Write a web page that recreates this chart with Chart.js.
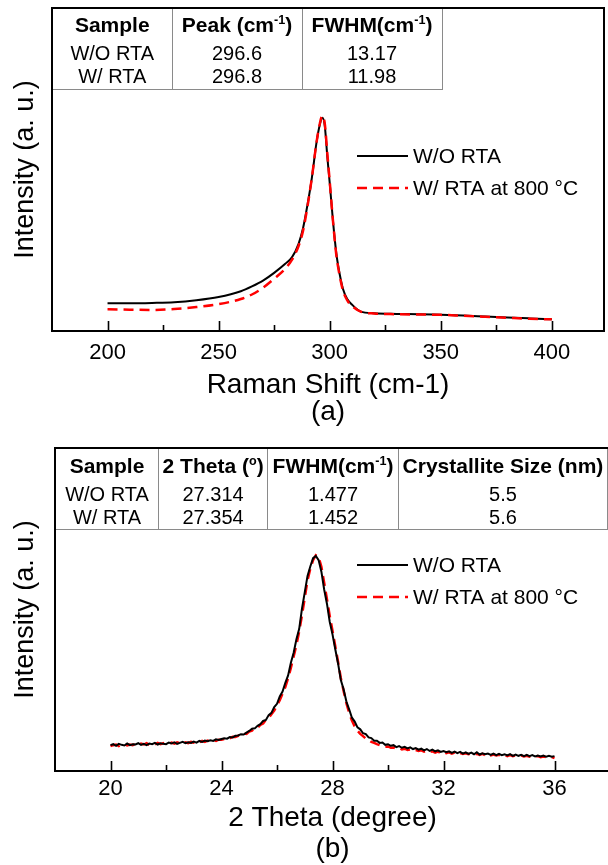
<!DOCTYPE html>
<html>
<head>
<meta charset="utf-8">
<script src="https://cdn.jsdelivr.net/npm/chart.js@4.4.1/dist/chart.umd.min.js"></script>
<style>
  body { margin: 0; width: 608px; height: 865px; overflow: hidden; position: relative; background: #fff; }
  .wrap { position: absolute; left: 0; }
  table.info { position: absolute; border-collapse: collapse; font-family: "Liberation Sans", Arial, sans-serif; color: #000; table-layout: fixed; }
  table.info td { padding: 0; text-align: center; white-space: nowrap; border-right: 1px solid #8a8a8a; font-size: 20px; }
  table.info tr.head td { font-weight: bold; font-size: 21px; }
  table.info tr:last-child td { border-bottom: 1px solid #8a8a8a; }
  table.info sup { font-size: 60%; vertical-align: top; line-height: 1; position: relative; top: 1px; }
</style>
</head>
<body>
<div class="wrap" style="top:0"><canvas id="ramanChart" width="608" height="432"></canvas></div>
<div class="wrap" style="top:435px"><canvas id="xrdChart" width="610" height="430"></canvas></div>
<table class="info" id="ramanTable" style="left:53px; top:9px"></table>
<table class="info" id="xrdTable" style="left:56px; top:449px"></table>
<script>
// ---- panel (a): Raman ----
const ramanShift = [200, 210, 220, 230, 240, 250, 260, 265, 270, 275, 280, 283, 286, 288, 290, 292, 294, 295.5, 296.7, 297.8, 299, 300, 301.5, 303, 304, 306, 308, 310, 314, 320, 330, 340, 350, 360, 370, 380, 390, 400];
const ramanWoRta = [8.6, 8.6, 8.7, 8.9, 9.5, 10.5, 12.3, 13.8, 15.6, 18.0, 20.8, 22.8, 27.0, 31.8, 39.0, 47.5, 58.0, 63.7, 66.0, 63.5, 53.5, 46.0, 34.0, 24.0, 19.5, 13.0, 9.8, 8.2, 6.0, 5.5, 5.3, 5.2, 5.0, 4.8, 4.5, 4.2, 3.9, 3.6];
const ramanWRta = [6.7, 6.6, 6.5, 6.8, 7.4, 8.3, 9.9, 11.3, 13.4, 16.2, 19.3, 22.0, 26.3, 31.0, 38.5, 47.5, 58.0, 64.0, 66.6, 64.2, 54.5, 46.5, 34.0, 23.5, 19.0, 12.5, 9.4, 7.8, 6.0, 5.4, 5.2, 5.1, 5.0, 4.7, 4.4, 4.1, 3.8, 3.6];
const ramanMajorTicks = [200, 250, 300, 350, 400];
const ramanMinorTicks = [225, 275, 325, 375];

// ---- panel (b): XRD ----
const twoTheta = [
  20.0, 20.1, 20.2, 20.3, 20.4, 20.5, 20.6, 20.7, 20.8, 20.9,
  21.0, 21.1, 21.2, 21.3, 21.4, 21.5, 21.6, 21.7, 21.8, 21.9,
  22.0, 22.1, 22.2, 22.3, 22.4, 22.5, 22.6, 22.7, 22.8, 22.9,
  23.0, 23.1, 23.2, 23.3, 23.4, 23.5, 23.6, 23.7, 23.8, 23.9,
  24.0, 24.1, 24.2, 24.3, 24.4, 24.5, 24.6, 24.7, 24.8, 24.9,
  25.0, 25.1, 25.2, 25.3, 25.4, 25.5, 25.6, 25.7, 25.8, 25.9,
  26.0, 26.1, 26.2, 26.3, 26.4, 26.5, 26.6, 26.7, 26.8, 26.9,
  27.0, 27.1, 27.2, 27.3, 27.4, 27.5, 27.6, 27.7, 27.8, 27.9,
  28.0, 28.1, 28.2, 28.3, 28.4, 28.5, 28.6, 28.7, 28.8, 28.9,
  29.0, 29.1, 29.2, 29.3, 29.4, 29.5, 29.6, 29.7, 29.8, 29.9,
  30.0, 30.1, 30.2, 30.3, 30.4, 30.5, 30.6, 30.7, 30.8, 30.9,
  31.0, 31.1, 31.2, 31.3, 31.4, 31.5, 31.6, 31.7, 31.8, 31.9,
  32.0, 32.1, 32.2, 32.3, 32.4, 32.5, 32.6, 32.7, 32.8, 32.9,
  33.0, 33.1, 33.2, 33.3, 33.4, 33.5, 33.6, 33.7, 33.8, 33.9,
  34.0, 34.1, 34.2, 34.3, 34.4, 34.5, 34.6, 34.7, 34.8, 34.9,
  35.0, 35.1, 35.2, 35.3, 35.4, 35.5, 35.6, 35.7, 35.8, 35.9,
  36.0];
const xrdWoRta = [
  8.0, 8.3, 7.8, 8.4, 8.1, 7.9, 8.5, 8.0, 8.3, 8.2,
  8.6, 8.1, 8.4, 8.0, 8.5, 8.3, 8.7, 8.2, 8.6, 8.4,
  8.3, 8.8, 8.5, 8.9, 8.4, 8.7, 9.0, 8.6, 8.9, 8.7,
  9.1, 8.8, 9.3, 9.0, 9.4, 9.2, 9.5, 9.3, 9.8, 9.6,
  9.9, 10.1, 10.0, 10.5, 10.4, 10.9, 11.0, 11.4, 11.3, 11.9,
  12.4, 13.1, 13.2, 14.0, 14.5, 15.5, 15.8, 17.3, 18.0, 19.8,
  20.8, 23.1, 24.6, 27.3, 29.6, 33.5, 36.6, 40.8, 44.0, 50.3,
  55.3, 60.4, 63.3, 65.9, 66.6, 65.3, 61.7, 56.2, 51.8, 46.2,
  42.3, 37.7, 33.3, 28.2, 25.3, 21.5, 19.1, 16.5, 15.3, 13.5,
  12.9, 11.7, 11.4, 10.4, 10.2, 9.4, 9.4, 8.7, 8.8, 8.1,
  8.3, 7.8, 8.0, 7.4, 7.7, 7.2, 7.5, 7.0, 7.3, 6.8,
  7.1, 6.6, 6.9, 6.4, 6.8, 6.2, 6.6, 6.1, 6.4, 5.9,
  6.2, 5.8, 6.1, 5.6, 6.0, 5.5, 5.9, 5.4, 5.8, 5.3,
  5.7, 5.2, 5.8, 5.1, 5.5, 5.2, 5.4, 5.0, 5.4, 4.9,
  5.3, 4.9, 5.2, 4.8, 5.2, 4.7, 5.1, 4.7, 5.0, 4.6,
  5.0, 4.6, 4.9, 4.5, 4.8, 4.5, 4.8, 4.4, 4.7, 4.4,
  4.6];
const xrdWRta = [
  7.7, 8.0, 8.2, 7.7, 8.1, 8.3, 7.9, 8.2, 8.0, 8.4,
  8.1, 8.5, 8.2, 8.6, 8.1, 8.4, 8.2, 8.7, 8.3, 8.6,
  8.7, 8.4, 8.8, 8.5, 8.9, 8.6, 8.5, 8.9, 8.6, 9.0,
  8.8, 9.2, 8.9, 9.3, 9.0, 9.4, 9.1, 9.5, 9.3, 9.7,
  9.7, 9.9, 10.3, 10.1, 10.6, 10.5, 10.9, 11.0, 11.6, 11.5,
  12.2, 12.5, 13.3, 13.4, 14.3, 14.7, 15.9, 16.4, 17.6, 18.7,
  20.4, 21.9, 24.0, 26.0, 28.7, 31.9, 35.5, 39.0, 43.2, 48.2,
  53.6, 59.0, 62.6, 65.3, 66.8, 66.2, 63.2, 58.3, 53.2, 48.0,
  43.4, 38.6, 33.8, 28.8, 24.8, 21.0, 18.0, 15.6, 13.8, 12.5,
  11.5, 10.8, 10.0, 9.6, 9.0, 8.7, 8.3, 8.0, 7.8, 7.5,
  7.6, 7.2, 7.3, 6.9, 7.1, 6.7, 6.9, 6.5, 6.7, 6.3,
  6.5, 6.2, 6.4, 6.0, 6.3, 5.9, 6.1, 5.7, 6.0, 5.6,
  5.9, 5.5, 5.8, 5.4, 5.7, 5.3, 5.6, 5.3, 5.5, 5.2,
  5.4, 5.1, 5.3, 5.0, 5.3, 4.9, 5.2, 4.8, 5.1, 4.8,
  5.0, 4.7, 5.0, 4.6, 4.9, 4.6, 4.8, 4.5, 4.8, 4.5,
  4.7, 4.4, 4.6, 4.4, 4.6, 4.3, 4.5, 4.3, 4.5, 4.3,
  4.0];
const xrdMajorTicks = [20, 24, 28, 32, 36];
const xrdMinorTicks = [22, 26, 30, 34];

const seriesLabels = ['W/O RTA', 'W/ RTA at 800 \u00b0C'];

// tables
const ramanTableHead = ['Sample', 'Peak (cm<sup>-1</sup>)', 'FWHM(cm<sup>-1</sup>)'];
const ramanTableRows = [['W/O RTA', '296.6', '13.17'], ['W/ RTA', '296.8', '11.98']];
const ramanColWidths = [119, 130, 140];
const xrdTableHead = ['Sample', '2 Theta (<sup>o</sup>)', 'FWHM(cm<sup>-1</sup>)', 'Crystallite Size (nm)'];
const xrdTableRows = [['W/O RTA', '27.314', '1.477', '5.5'], ['W/ RTA', '27.354', '1.452', '5.6']];
const xrdColWidths = [105, 110, 132, 210];

const FONT = '"Liberation Sans", Arial, sans-serif';

function buildTable(id, head, rows, widths, heights) {
    const t = document.getElementById(id);
    let html = '<colgroup>' + widths.map(w => `<col style="width:${w}px">`).join('') + '</colgroup>';
    html += `<tr class="head" style="height:${heights[0]}px">` + head.map(h => `<td>${h}</td>`).join('') + '</tr>';
    rows.forEach((r, i) => {
        html += `<tr style="height:${heights[i + 1]}px">` + r.map(c => `<td>${c}</td>`).join('') + '</tr>';
    });
    t.innerHTML = html;
}

// frame, inward ticks and legend
const framePlugin = {
    id: 'frame',
    afterDraw(chart, args, opts) {
        const {ctx, chartArea: a, scales: {x}} = chart;
        ctx.save();
        ctx.strokeStyle = '#000';
        ctx.lineWidth = 2;
        ctx.strokeRect(a.left, a.top, a.right - a.left, a.bottom - a.top);
        const tick = (v, len) => {
            const px = Math.round(x.getPixelForValue(v)) + 0.5;
            ctx.beginPath();
            ctx.moveTo(px, a.bottom);
            ctx.lineTo(px, a.bottom - len);
            ctx.stroke();
        };
        ctx.lineWidth = 1.6;
        opts.major.forEach(v => tick(v, 10));
        opts.minor.forEach(v => tick(v, 6));

        // legend
        ctx.font = '21px ' + FONT;
        ctx.textBaseline = 'middle';
        chart.data.datasets.forEach((ds, i) => {
            const y = opts.legendY + i * opts.legendGap;
            ctx.beginPath();
            ctx.setLineDash(ds.borderDash || []);
            ctx.lineWidth = ds.borderWidth;
            ctx.strokeStyle = ds.borderColor;
            ctx.moveTo(357, y);
            ctx.lineTo(408, y);
            ctx.stroke();
            ctx.setLineDash([]);
            ctx.fillStyle = '#000';
            ctx.fillText(ds.label, 413, y + 1);
        });
        ctx.restore();
    }
};

function makeChart(id, cfg) {
    return new Chart(document.getElementById(id), {
        type: 'line',
        data: {
            datasets: [
                {
                    label: seriesLabels[0],
                    data: cfg.x.map((v, i) => ({x: v, y: cfg.black[i]})),
                    borderColor: '#000000',
                    borderWidth: 2,
                    pointRadius: 0,
                    order: cfg.blackOrder,
                    cubicInterpolationMode: cfg.smooth ? 'monotone' : 'default',
                    tension: 0
                },
                {
                    label: seriesLabels[1],
                    data: cfg.x.map((v, i) => ({x: v, y: cfg.red[i]})),
                    borderColor: '#ff0000',
                    borderWidth: 2.5,
                    borderDash: [10, 6],
                    pointRadius: 0,
                    order: cfg.redOrder,
                    cubicInterpolationMode: cfg.smooth ? 'monotone' : 'default',
                    tension: 0
                }
            ]
        },
        options: {
            responsive: false,
            animation: false,
            events: [],
            layout: {padding: cfg.padding},
            plugins: {
                legend: {display: false},
                tooltip: {enabled: false},
                frame: {major: cfg.major, minor: cfg.minor, legendY: cfg.legendY, legendGap: 32}
            },
            scales: {
                x: {
                    type: 'linear',
                    min: cfg.min,
                    max: cfg.max,
                    border: {display: false},
                    grid: {display: false, drawTicks: false},
                    afterBuildTicks: s => { s.ticks = cfg.major.map(v => ({value: v})); },
                    ticks: {color: '#000', font: {family: FONT, size: 22}, padding: cfg.tickPad, maxRotation: 0, autoSkip: false},
                    title: {
                        display: true,
                        text: [cfg.xTitle, cfg.panel],
                        color: '#000',
                        font: {family: FONT, size: 28, lineHeight: cfg.titleLH},
                        padding: {top: 0, bottom: cfg.titlePad}
                    },
                    afterFit: s => { s.height = cfg.xHeight; }
                },
                y: {
                    min: 0,
                    max: 100,
                    border: {display: false},
                    grid: {display: false, drawTicks: false},
                    ticks: {display: false},
                    title: {
                        display: true,
                        text: 'Intensity (a. u.)',
                        color: '#000',
                        font: {family: FONT, size: 27},
                        padding: {top: 9, bottom: 0}
                    },
                    afterFit: s => { s.width = cfg.yWidth; }
                }
            }
        },
        plugins: [framePlugin]
    });
}

makeChart('ramanChart', {
    x: ramanShift, black: ramanWoRta, red: ramanWRta, smooth: true,
    blackOrder: 1, redOrder: 0,
    min: 175, max: 423.5, major: ramanMajorTicks, minor: ramanMinorTicks,
    padding: {left: 0, right: 4, top: 8, bottom: 0},
    yWidth: 52, xHeight: 101, tickPad: 9, titleLH: '27px', titlePad: 6,
    xTitle: 'Raman Shift (cm-1)', panel: '(a)', legendY: 156
});

makeChart('xrdChart', {
    x: twoTheta, black: xrdWoRta, red: xrdWRta, smooth: false,
    blackOrder: 0, redOrder: 1,
    min: 18, max: 38, major: xrdMajorTicks, minor: xrdMinorTicks,
    padding: {left: 0, right: 0, top: 13, bottom: 0},
    yWidth: 55, xHeight: 94, tickPad: 5, titleLH: '31px', titlePad: 0,
    xTitle: '2 Theta (degree)', panel: '(b)', legendY: 130
});

buildTable('ramanTable', ramanTableHead, ramanTableRows, ramanColWidths, [32, 24, 24]);
buildTable('xrdTable', xrdTableHead, xrdTableRows, xrdColWidths, [33, 24, 23]);
</script>
</body>
</html>
